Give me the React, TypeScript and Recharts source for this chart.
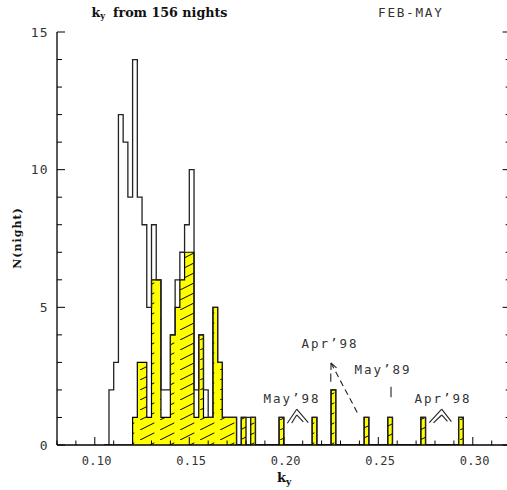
import React from 'react';
import { ComposedChart, Line, Area, XAxis, YAxis, ReferenceLine } from 'recharts';

// ---- data ----
const BIN_WIDTH = 0.0025;
const binStarts = [
  0.1075, 0.11, 0.1125, 0.115, 0.1175, 0.12, 0.1225, 0.125, 0.1275, 0.13,
  0.1325, 0.135, 0.1375, 0.14, 0.1425, 0.145, 0.1475, 0.15, 0.1525, 0.155,
  0.1575, 0.16, 0.1625, 0.165, 0.1675, 0.17, 0.1725, 0.1775, 0.18, 0.1825,
  0.1975, 0.215, 0.225, 0.2425, 0.255, 0.2725, 0.2925,
];
const allNights = [
  2, 3, 12, 11, 9, 14, 9, 8, 5, 8,
  6, 2, 2, 4, 6, 7, 8, 10, 2, 4,
  2, 1, 5, 3, 1, 1, 1, 1, 1, 1,
  1, 1, 2, 1, 1, 1, 1,
];
const febMayNights = [
  0, 0, 0, 0, 0, 1, 3, 3, 1, 6,
  6, 1, 1, 4, 5, 6, 7, 7, 1, 4,
  1, 1, 5, 3, 1, 1, 1, 1, 0, 1,
  1, 1, 2, 1, 1, 1, 1,
];
const xTicks = [
  0.08, 0.09, 0.1, 0.11, 0.12, 0.13, 0.14, 0.15, 0.16, 0.17, 0.18, 0.19, 0.2,
  0.21, 0.22, 0.23, 0.24, 0.25, 0.26, 0.27, 0.28, 0.29, 0.3, 0.31, 0.32,
];
const yTicks = [0, 1, 2, 3, 4, 5, 6, 7, 8, 9, 10, 11, 12, 13, 14, 15];
const xMajorEvery = 0.05;
const yMajorEvery = 5;

// ---- table built from the arrays ----
const kOf = (v: number) => Math.round(v / BIN_WIDTH);
const kMin = kOf(binStarts[0]) - 1;
const kMax = kOf(binStarts[binStarts.length - 1]) + 1;
const rows: { x: number; total: number; sub: number }[] = [];
for (let k = kMin; k <= kMax; k++) {
  const i = binStarts.findIndex((b) => kOf(b) === k);
  rows.push({ x: k * BIN_WIDTH, total: i >= 0 ? allNights[i] : 0, sub: i >= 0 ? febMayNights[i] : 0 });
}

const isMajor = (v: number, step: number) => Math.abs(v / step - Math.round(v / step)) < 1e-6;
const NUM_FONT = 'DejaVu Sans Mono';

const BottomTick = (p: any) => {
  const { x, y, payload } = p;
  const v = payload.value;
  const major = isMajor(v, xMajorEvery);
  return (
    <g>
      <line x1={x} x2={x} y1={y} y2={y - (major ? 8 : 4.5)} stroke="#000" strokeWidth={1} />
      {major && (
        <text x={x + 2} y={y + 19.5} textAnchor="middle" fontFamily={NUM_FONT} fontSize={12} fill="#333" letterSpacing={0.3}>
          {v.toFixed(2)}
        </text>
      )}
    </g>
  );
};
const TopTick = (p: any) => {
  const { x, y, payload } = p;
  const major = isMajor(payload.value, xMajorEvery);
  return <line x1={x} x2={x} y1={y} y2={y + (major ? 8 : 4.5)} stroke="#000" strokeWidth={1} />;
};
const LeftTick = (p: any) => {
  const { x, y, payload } = p;
  const v = payload.value;
  const major = isMajor(v, yMajorEvery);
  return (
    <g>
      <line x1={x} x2={x + (major ? 8 : 5)} y1={y} y2={y} stroke="#000" strokeWidth={1} />
      {major && (
        <text x={x - 8.5} y={y} textAnchor="end" dominantBaseline="central" fontFamily={NUM_FONT} fontSize={13} fill="#333" letterSpacing={1}>
          {String(v)}
        </text>
      )}
    </g>
  );
};
const RightTick = (p: any) => {
  const { x, y, payload } = p;
  const major = isMajor(payload.value, yMajorEvery);
  return <line x1={x} x2={x - (major ? 8 : 5)} y1={y} y2={y} stroke="#000" strokeWidth={1} />;
};

const annoStroke = { stroke: '#222', strokeWidth: 1.1 };
const seg = (x1: number, y1: number, x2: number, y2: number) => [{ x: x1, y: y1 }, { x: x2, y: y2 }];

export default function App() {
  const axisLine = { stroke: '#000', strokeWidth: 1.3 };
  return (
    <div style={{ position: 'absolute', left: 0, top: 0, width: 507, height: 490, overflow: 'hidden', background: '#fff' }}>
      <svg width={0} height={0} style={{ position: 'absolute' }}>
        <defs>
          <pattern id="hatch" patternUnits="userSpaceOnUse" width={20} height={10}>
            <rect width={20} height={10} fill="#ffff00" />
            <line x1={0} y1={10} x2={20} y2={0} stroke="#000" strokeWidth={1} strokeDasharray="16 6.4" />
          </pattern>
        </defs>
      </svg>
      <ComposedChart width={521} height={490} data={rows} margin={{ top: 32, right: 0, bottom: 0, left: 0 }}>
        <XAxis dataKey="x" type="number" domain={[0.08, 0.32]} ticks={xTicks} interval={0} height={45}
          tickSize={0} tickMargin={0} tick={BottomTick} tickLine={false} axisLine={axisLine} allowDataOverflow />
        <XAxis xAxisId="t" orientation="top" dataKey="x" type="number" domain={[0.08, 0.32]} ticks={xTicks} interval={0} height={0}
          tickSize={0} tickMargin={0} tick={TopTick} tickLine={false} axisLine={axisLine} allowDataOverflow />
        <YAxis type="number" domain={[0, 15]} ticks={yTicks} interval={0} width={57}
          tickSize={0} tickMargin={0} tick={LeftTick} tickLine={false} axisLine={axisLine} allowDataOverflow />
        <YAxis yAxisId="r" orientation="right" type="number" domain={[0, 15]} ticks={yTicks} interval={0} width={10.4}
          tickSize={0} tickMargin={0} tick={RightTick} tickLine={false} axisLine={axisLine} allowDataOverflow />
        <Area type="stepAfter" dataKey="sub" fill="url(#hatch)" fillOpacity={1} stroke="#000" strokeWidth={1.2}
          dot={false} activeDot={false} isAnimationActive={false} />
        <Line type="stepAfter" dataKey="total" stroke="#222" strokeWidth={1.3} dot={false} activeDot={false} isAnimationActive={false} />
        <Line xAxisId="t" yAxisId="r" type="stepAfter" dataKey="total" stroke="none" dot={false} activeDot={false} isAnimationActive={false} />

        {/* May'98 double chevron */}
        <ReferenceLine segment={seg(0.20186, 0.79, 0.20683, 1.3)} {...annoStroke} />
        <ReferenceLine segment={seg(0.20683, 1.3, 0.21296, 0.81)} {...annoStroke} />
        <ReferenceLine segment={seg(0.20418, 0.8, 0.20683, 1.09)} {...annoStroke} />
        <ReferenceLine segment={seg(0.20683, 1.09, 0.21032, 0.84)} {...annoStroke} />
        {/* Apr'98 right double chevron */}
        <ReferenceLine segment={seg(0.27699, 0.81, 0.28354, 1.3)} {...annoStroke} />
        <ReferenceLine segment={seg(0.28354, 1.3, 0.28868, 0.85)} {...annoStroke} />
        <ReferenceLine segment={seg(0.27921, 0.8, 0.28354, 1.09)} {...annoStroke} />
        <ReferenceLine segment={seg(0.28354, 1.09, 0.28661, 0.86)} {...annoStroke} />
        {/* Apr'98 middle: dashed arrow and tick */}
        <ReferenceLine segment={seg(0.22497, 2.98, 0.23926, 1.13)} {...annoStroke} strokeDasharray="6 4" />
        <ReferenceLine segment={seg(0.22497, 2.98, 0.22497, 2.72)} {...annoStroke} />
        <ReferenceLine segment={seg(0.22497, 2.98, 0.22788, 2.8)} {...annoStroke} />
        <ReferenceLine segment={seg(0.22485, 2.6, 0.22485, 2.3)} {...annoStroke} />
        {/* May'89 tick */}
        <ReferenceLine segment={seg(0.25672, 2.12, 0.25672, 1.73)} {...annoStroke} />
      </ComposedChart>
      <svg width={507} height={490} style={{ position: 'absolute', left: 0, top: 0, pointerEvents: 'none' }}>
        <text x={91.5} y={16.7} fontFamily="DejaVu Serif" fontWeight="bold" fontSize={12.7} fill="#111">
          k<tspan fontSize={8.5} dy={2.5}>y</tspan>
        </text>
        <text x={113} y={16.7} fontFamily="DejaVu Serif" fontWeight="bold" fontSize={12.7} fill="#111">from 156 nights</text>
        <text x={410.8} y={16.7} textAnchor="middle" fontFamily={NUM_FONT} fontSize={12.7} letterSpacing={1.7} fill="#333">FEB-MAY</text>
        <text transform="translate(17,238) rotate(-90)" textAnchor="middle" dominantBaseline="central"
          fontFamily="DejaVu Serif" fontWeight="bold" fontSize={11} letterSpacing={1} fill="#111">N(night)</text>
        <text x={277} y={481.5} fontFamily="DejaVu Serif" fontWeight="bold" fontSize={13} fill="#111">
          k<tspan fontSize={9} dy={3}>y</tspan>
        </text>
        <text x={292} y={402.5} textAnchor="middle" fontFamily={NUM_FONT} fontSize={12.5} letterSpacing={2} fill="#333">May’98</text>
        <text x={330} y={347.5} textAnchor="middle" fontFamily={NUM_FONT} fontSize={12.5} letterSpacing={2} fill="#333">Apr’98</text>
        <text x={383} y={374} textAnchor="middle" fontFamily={NUM_FONT} fontSize={12.5} letterSpacing={2} fill="#333">May’89</text>
        <text x={443} y={402.5} textAnchor="middle" fontFamily={NUM_FONT} fontSize={12.5} letterSpacing={2} fill="#333">Apr’98</text>
      </svg>
    </div>
  );
}
